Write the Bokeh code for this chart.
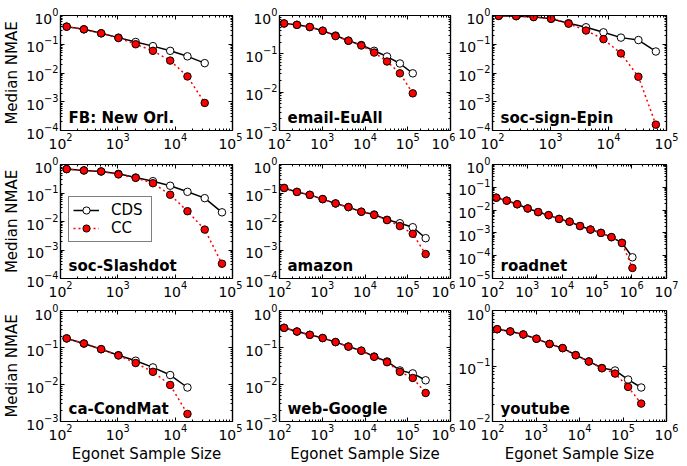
from bokeh.plotting import figure
from bokeh.models import (FixedTicker, LogTickFormatter, LogAxis, Label, Legend, LegendItem,
                          Range1d, CustomJSTickFormatter)
from bokeh.layouts import column, row
from bokeh.embed import file_html
from bokeh.resources import INLINE

SIZES = [128, 256, 512, 1024, 2048, 4096, 8192, 16384, 32768, 65536,
         131072, 262144, 524288, 1048576]

NAMES = ["FB: New Orl.", "email-EuAll", "soc-sign-Epin",
         "soc-Slashdot", "amazon", "roadnet",
         "ca-CondMat", "web-Google", "youtube"]

# decade exponents of axis ranges
X_DECADES = [(2, 5), (2, 6), (2, 5), (2, 5), (2, 6), (2, 7), (2, 5), (2, 6), (2, 6)]
Y_DECADES = [(-4, 0), (-3, 0), (-4, 0), (-4, 0), (-4, 0), (-5, 0), (-3, 0), (-3, 0), (-2, 0)]

CDS_FB = [0.41, 0.33, 0.24, 0.17, 0.12, 0.086, 0.059, 0.038, 0.022]
CC_FB = [0.41, 0.33, 0.24, 0.165, 0.10, 0.059, 0.027, 0.0076, 0.00091]

CDS_EMAIL = [0.62, 0.57, 0.50, 0.40, 0.30, 0.22, 0.17, 0.12, 0.085, 0.056, 0.031]
CC_EMAIL = [0.62, 0.57, 0.50, 0.40, 0.29, 0.22, 0.165, 0.108, 0.063, 0.031, 0.0093]

CDS_EPIN = [0.97, 0.95, 0.90, 0.77, 0.54, 0.39, 0.26, 0.17, 0.14, 0.056]
CC_EPIN = [0.97, 0.95, 0.88, 0.77, 0.52, 0.30, 0.15, 0.048, 0.0074, 0.00016]

CDS_SLASH = [0.69, 0.62, 0.57, 0.47, 0.35, 0.26, 0.18, 0.11, 0.066, 0.021]
CC_SLASH = [0.69, 0.62, 0.57, 0.45, 0.34, 0.22, 0.087, 0.023, 0.0052, 0.00033]

CDS_AMAZON = [0.15, 0.109, 0.086, 0.061, 0.043, 0.032, 0.022, 0.0176, 0.0115, 0.0087, 0.0063, 0.0026]
CC_AMAZON = [0.15, 0.109, 0.086, 0.061, 0.043, 0.032, 0.022, 0.0170, 0.0112, 0.0069, 0.0037, 0.00072]

CDS_ROAD = [0.035, 0.026, 0.018, 0.0118, 0.0082, 0.0060, 0.0041, 0.0031, 0.0020,
            0.0014, 0.0010, 0.00065, 0.00037, 0.000085]
CC_ROAD = [0.035, 0.026, 0.018, 0.0118, 0.0082, 0.0060, 0.0041, 0.0031, 0.0020,
           0.0014, 0.0010, 0.00065, 0.00036, 0.000029]

CDS_COND = [0.176, 0.128, 0.090, 0.062, 0.044, 0.029, 0.018, 0.0083]
CC_COND = [0.176, 0.128, 0.090, 0.061, 0.038, 0.022, 0.0097, 0.0016]

CDS_GOOGLE = [0.34, 0.27, 0.22, 0.18, 0.14, 0.106, 0.082, 0.057, 0.042, 0.024, 0.020, 0.013]
CC_GOOGLE = [0.34, 0.27, 0.22, 0.18, 0.14, 0.106, 0.082, 0.056, 0.040, 0.022, 0.015, 0.0059]

CDS_YOUTUBE = [0.46, 0.42, 0.37, 0.31, 0.25, 0.21, 0.158, 0.121, 0.092, 0.083, 0.057, 0.041]
CC_YOUTUBE = [0.46, 0.42, 0.37, 0.31, 0.25, 0.21, 0.156, 0.120, 0.091, 0.073, 0.042, 0.021]

CDS_ALL = [CDS_FB, CDS_EMAIL, CDS_EPIN, CDS_SLASH, CDS_AMAZON, CDS_ROAD, CDS_COND, CDS_GOOGLE, CDS_YOUTUBE]
CC_ALL = [CC_FB, CC_EMAIL, CC_EPIN, CC_SLASH, CC_AMAZON, CC_ROAD, CC_COND, CC_GOOGLE, CC_YOUTUBE]

FONT = "DejaVu Sans"
ML = [60, 34, 36]
MR = [10, 5, 20]
WIDTHS = [242, 213, 231]
MT = [15, 8, 7]
MB = [26, 25, 39]
HEIGHTS = [156, 147, 162]


def log_ticker(lo, hi):
    majors = [10.0 ** k for k in range(lo, hi + 1)]
    minors = [m * 10.0 ** k for k in range(lo, hi) for m in range(2, 10)]
    return FixedTicker(ticks=majors, minor_ticks=minors)


def style_axis(ax, labels=True):
    ax.axis_line_color = "black"
    ax.axis_line_width = 1.2
    ax.major_tick_in = 4
    ax.major_tick_out = 0
    ax.minor_tick_in = 2
    ax.minor_tick_out = 0
    ax.major_tick_line_color = "black"
    ax.minor_tick_line_color = "black"
    ax.major_label_text_font = FONT
    ax.major_label_text_color = "black"
    ax.axis_label_text_font = FONT
    ax.axis_label_text_font_size = "15px"
    ax.axis_label_text_font_style = "normal"
    ax.axis_label_text_color = "black"
    ax.axis_label_standoff = 2
    if labels:
        ax.major_label_text_font_size = "14px"
        ax.major_label_standoff = 2
    else:
        ax.formatter = CustomJSTickFormatter(code="return ''")
        ax.major_label_text_font_size = "1px"
        ax.major_label_standoff = 0


def make_panel(i):
    c, r = i % 3, i // 3
    xlo, xhi = X_DECADES[i]
    ylo, yhi = Y_DECADES[i]
    p = figure(width=WIDTHS[c], height=HEIGHTS[r],
               x_axis_type="log", y_axis_type="log",
               x_range=Range1d(10.0 ** xlo, 10.0 ** xhi),
               y_range=Range1d(10.0 ** ylo, 10.0 ** yhi),
               min_border_left=ML[c], min_border_right=MR[c],
               min_border_top=MT[r], min_border_bottom=MB[r],
               output_backend="svg", toolbar_location=None)
    p.xgrid.visible = False
    p.ygrid.visible = False
    p.outline_line_color = "black"
    p.outline_line_width = 1.2
    p.background_fill_color = "white"
    p.border_fill_color = "white"

    bottom = p.xaxis[0]
    left = p.yaxis[0]
    bottom.ticker = log_ticker(xlo, xhi)
    left.ticker = log_ticker(ylo, yhi)
    bottom.formatter = LogTickFormatter()
    left.formatter = LogTickFormatter()
    style_axis(bottom)
    style_axis(left)
    if c == 0:
        left.axis_label = "Median NMAE"
    if r == 2:
        bottom.axis_label = "Egonet Sample Size"

    top = LogAxis(ticker=log_ticker(xlo, xhi))
    style_axis(top, labels=False)
    p.add_layout(top, "above")
    right = LogAxis(ticker=log_ticker(ylo, yhi))
    style_axis(right, labels=False)
    p.add_layout(right, "right")

    cds = CDS_ALL[i]
    cc = CC_ALL[i]
    xs_cds = SIZES[:len(cds)]
    xs_cc = SIZES[:len(cc)]
    l1 = p.line(xs_cds, cds, line_color="black", line_width=1.5)
    s1 = p.scatter(xs_cds, cds, size=7.5, fill_color="white", line_color="black", line_width=1)
    l2 = p.line(xs_cc, cc, line_color="red", line_width=1.5, line_dash="2 3")
    s2 = p.scatter(xs_cc, cc, size=7.5, fill_color="red", line_color="black", line_width=1)

    p.add_layout(Label(x=10.0 ** xlo, y=10.0 ** ylo, x_offset=8, y_offset=4,
                       text=NAMES[i], text_font=FONT, text_font_size="15px",
                       text_font_style="bold", text_baseline="bottom",
                       text_color="black"))

    if i == 3:
        leg = Legend(items=[LegendItem(label="CDS", renderers=[l1, s1]),
                            LegendItem(label="CC", renderers=[l2, s2])],
                     location=(8, 36))
        leg.label_text_font = FONT
        leg.label_text_font_size = "15px"
        leg.label_text_color = "black"
        leg.border_line_color = "black"
        leg.border_line_width = 1
        leg.background_fill_color = "white"
        leg.background_fill_alpha = 1
        leg.padding = 4
        leg.spacing = 0
        leg.margin = 0
        leg.glyph_width = 26
        leg.glyph_height = 18
        leg.label_height = 18
        leg.label_standoff = 12
        leg.label_width = 36
        p.add_layout(leg)
    return p


panels = [make_panel(i) for i in range(9)]
layout = column(row(*panels[0:3]), row(*panels[3:6]), row(*panels[6:9]))

open("out.html", "w").write(file_html(layout, INLINE))
